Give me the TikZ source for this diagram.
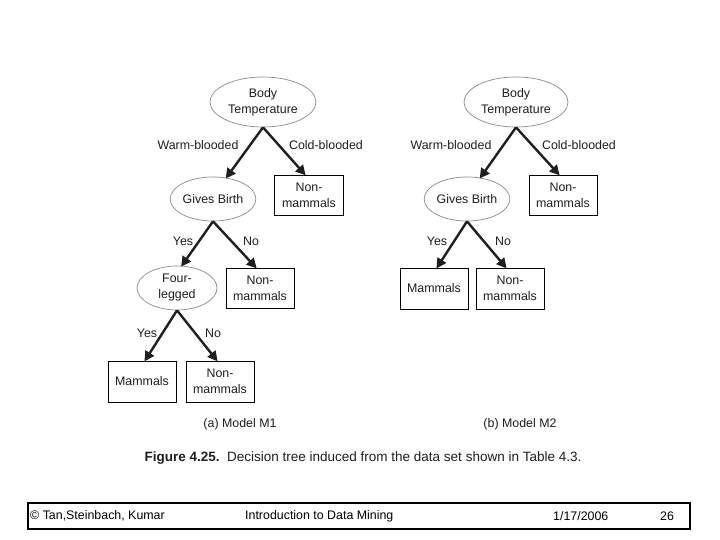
\documentclass[tikz,border=0pt]{standalone}
\usepackage{fontspec}
\setmainfont{Liberation Sans}
\usetikzlibrary{shapes.geometric,arrows.meta,calc}
\definecolor{txt}{HTML}{1E1E1E}
\definecolor{ell}{HTML}{8A8A8A}
\tikzset{
  every node/.style={font=\fontsize{12.4}{16}\selectfont, text=txt},
  cond/.style={ellipse, draw=ell, line width=0.7pt, inner sep=0pt, align=center},
  leaf/.style={rectangle, draw=black, line width=0.8pt, inner sep=0pt, align=center, minimum width=68pt, minimum height=40pt},
  branch/.style={draw=black!88, line width=2.4pt, -{Triangle[length=10pt,width=10pt]}, shorten >=-1pt},
  lbl/.style={inner sep=0pt}
}
\begin{document}
\begin{tikzpicture}[x=1pt,y=-1pt]
\useasboundingbox (0,0) rectangle (720,540);
% ---------- Model M1 ----------
\node[cond, minimum width=106pt, minimum height=50pt] (bt1) at (263,102) {Body\\Temperature};
\node[cond, minimum width=80pt, minimum height=44pt] (gb1) at (213,199) {Gives Birth};
\node[leaf, minimum width=69pt] (nm1) at (309,195) {Non-\\mammals};
\node[cond, minimum width=80pt, minimum height=44pt] (fl1) at (177,288) {Four-\\legged};
\node[leaf] (nm2) at (260,288) {Non-\\mammals};
\node[leaf, minimum height=41pt] (ma1) at (142,381.5) {Mammals};
\node[leaf, minimum height=41pt] (nm3) at (220,381.5) {Non-\\mammals};
\draw[branch] (bt1.south) -- (gb1.58);
\draw[branch] (bt1.south) -- ($(nm1.north)+(-4,0)$);
\draw[branch] (gb1.south) -- (fl1.78);
\draw[branch] (gb1.south) -- ($(nm2.north)+(-4,0)$);
\draw[branch] (fl1.south) -- ($(ma1.north)+(3,0)$);
\draw[branch] (fl1.south) -- ($(nm3.north)+(-3,0)$);
\node[lbl] (l1) at (198,145) {Warm-blooded};
\node[lbl] (l2) at (326,145) {Cold-blooded};
\node[lbl] (l3) at (183,241) {Yes};
\node[lbl] (l4) at (251,241) {No};
\node[lbl] (l5) at (147,333) {Yes};
\node[lbl] (l6) at (213,333) {No};
% ---------- Model M2 ----------
\node[cond, minimum width=104pt, minimum height=50pt] (bt2) at (516,102) {Body\\Temperature};
\node[cond, minimum width=82pt, minimum height=44pt] (gb2) at (467,199) {Gives Birth};
\node[leaf] (nm4) at (563,195) {Non-\\mammals};
\node[leaf, minimum height=41pt] (ma2) at (434,288.5) {Mammals};
\node[leaf, minimum height=41pt] (nm5) at (510,288.5) {Non-\\mammals};
\draw[branch] (bt2.south) -- (gb2.58);
\draw[branch] (bt2.south) -- ($(nm4.north)+(-4,0)$);
\draw[branch] (gb2.south) -- ($(ma2.north)+(3,0)$);
\draw[branch] (gb2.south) -- ($(nm5.north)+(-4,0)$);
\node[lbl] (r1) at (451,145) {Warm-blooded};
\node[lbl] (r2) at (579,145) {Cold-blooded};
\node[lbl] (r3) at (437,241) {Yes};
\node[lbl] (r4) at (503,241) {No};
% ---------- captions ----------
\node[lbl] (ca) at (240,424) {(a) Model M1};
\node[lbl] (cb) at (520,424) {(b) Model M2};
\node[lbl, font=\fontsize{13.5}{16}\selectfont] (fig) at (363,458) {\textbf{Figure 4.25.}\ \ Decision tree induced from the data set shown in Table 4.3.};
% ---------- footer ----------
\draw[line width=2pt] (28,503) rectangle (690,529);
\node[lbl, anchor=west, text=black] (f1) at (30,516) {© Tan,Steinbach, Kumar};
\node[lbl, anchor=west, text=black] (f2) at (245,516) {Introduction to Data Mining};
\node[lbl, anchor=west, text=black] (f3) at (553,516) {1/17/2006};
\node[lbl, anchor=west, text=black] (f4) at (660,516) {26};
\end{tikzpicture}
\end{document}
